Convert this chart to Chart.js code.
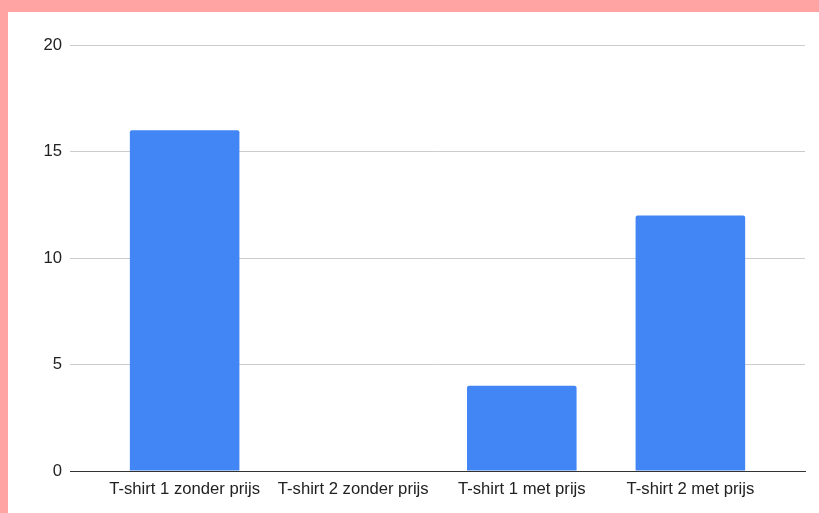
<!DOCTYPE html>
<html>
<head>
<meta charset="utf-8">
<script src="https://cdn.jsdelivr.net/npm/chart.js@4/dist/chart.umd.min.js"></script>
<style>
  html, body { margin: 0; padding: 0; }
  body { width: 819px; height: 513px; background: #ffa3a3; position: relative; overflow: hidden; }
  #wrap { position: absolute; left: 8px; top: 12px; width: 811px; height: 501px; background: #ffffff; }
  canvas { display: block; }
</style>
</head>
<body>
<div id="wrap"><canvas id="c" width="811" height="501"></canvas></div>
<script>
// T-shirt responses per option
const categories = ['T-shirt 1 zonder prijs', 'T-shirt 2 zonder prijs', 'T-shirt 1 met prijs', 'T-shirt 2 met prijs'];
const counts = [16, 0, 4, 12];
const yTicks = [0, 5, 10, 15, 20];

const FONT = { family: "'Liberation Sans', Arial, sans-serif", size: 16.67 };

new Chart(document.getElementById('c'), {
  type: 'bar',
  data: {
    datasets: [{
      data: categories.map((c, i) => ({ x: i, y: counts[i] })),
      backgroundColor: '#4285f4',
      borderWidth: 0,
      borderRadius: { topLeft: 2, topRight: 2 },
      borderSkipped: 'bottom',
      categoryPercentage: 1,
      barPercentage: 0.65
    }]
  },
  options: {
    responsive: false,
    animation: false,
    layout: { padding: { top: 33, right: 14, left: 0, bottom: 0 } },
    plugins: { legend: { display: false }, tooltip: { enabled: false } },
    scales: {
      x: {
        type: 'linear',
        offset: false,
        min: -0.68,
        max: 3.68,
        afterBuildTicks: (s) => { s.ticks = categories.map((c, i) => ({ value: i })); },
        afterFit: (s) => { s.height = 42; },
        grid: { display: false, drawTicks: false, offset: false },
        border: { display: true, color: '#333333', width: 1 },
        ticks: {
          autoSkip: false,
          maxRotation: 0,
          padding: 8,
          color: '#222222',
          font: FONT,
          callback: (v) => categories[v]
        }
      },
      y: {
        min: 0,
        max: 20,
        afterBuildTicks: (s) => { s.ticks = yTicks.map(v => ({ value: v })); },
        afterFit: (s) => { s.width = 62; },
        grid: { color: '#cccccc', lineWidth: 1, drawTicks: false },
        border: { display: false },
        ticks: { padding: 8, color: '#222222', font: FONT }
      }
    }
  }
});
</script>
</body>
</html>
